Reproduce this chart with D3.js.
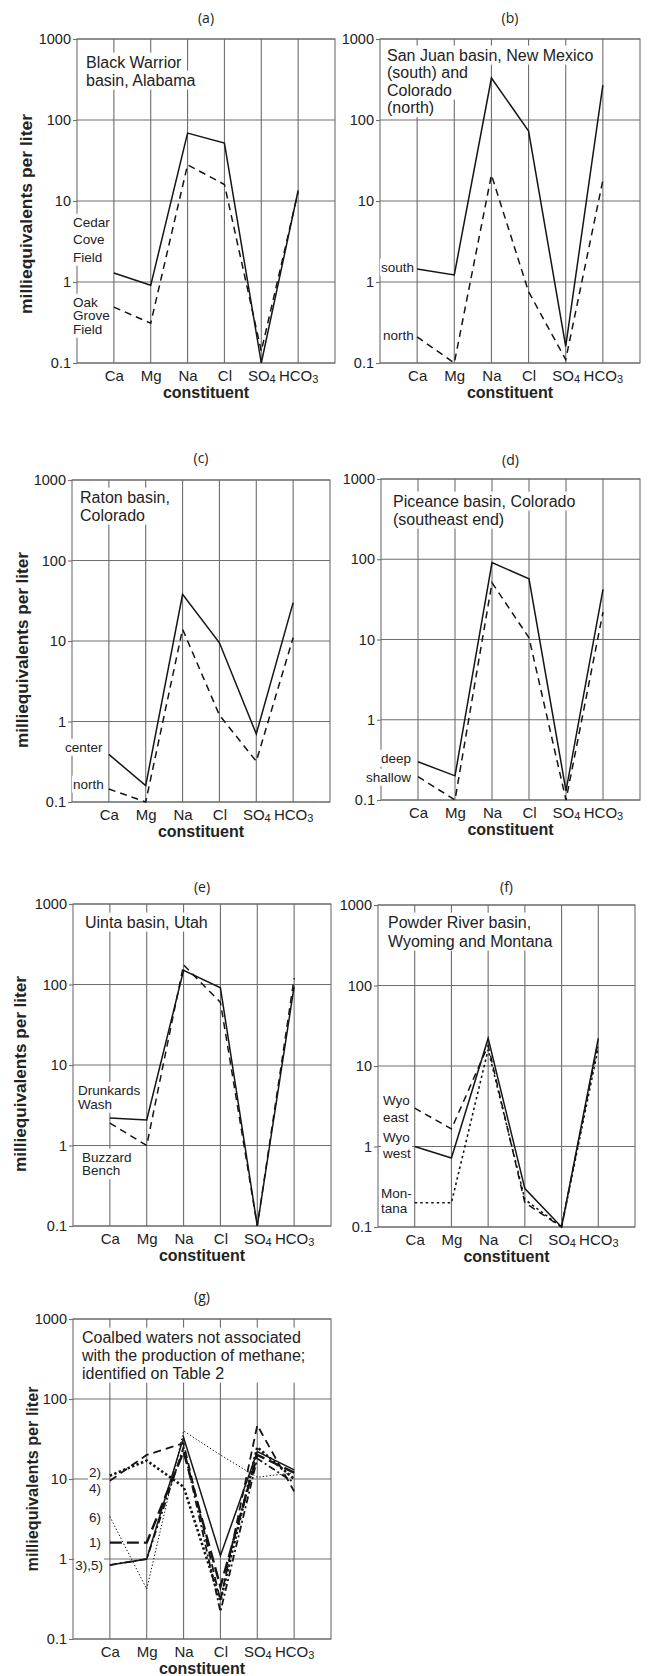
<!DOCTYPE html>
<html><head><meta charset="utf-8">
<script src="https://cdn.jsdelivr.net/npm/d3@7"></script>
<style>
body{margin:0;background:#fff}
svg{display:block}
text{font-family:"Liberation Sans",Arial,Helvetica,sans-serif;fill:#222}
</style>
</head><body>
<svg id="chart" width="648" height="1676"></svg>
<script>
// ---------- data ----------
const constituents = ["Ca","Mg","Na","Cl","SO4","HCO3"];
const yTickValues = [0.1, 1, 10, 100, 1000];
const yTickLabels = ["0.1","1","10","100","1000"];
const yAxisTitle = "milliequivalents per liter";
const xAxisTitle = "constituent";

// (a) Black Warrior basin
const aTitle = ["Black Warrior","basin, Alabama"];
const aNames = [["Cedar","Cove","Field"],["Oak","Grove","Field"]];
const aCedarCove = [1.29, 0.91, 69, 52, 0.1, 13.5];
const aOakGrove  = [0.49, 0.31, 28, 16, 0.14, 13];

// (b) San Juan basin
const bTitle = ["San Juan basin, New Mexico","(south) and","Colorado","(north)"];
const bNames = [["south"],["north"]];
const bSouth = [1.45, 1.22, 330, 73, 0.16, 270];
const bNorth = [0.21, 0.1, 21, 0.76, 0.11, 18];

// (c) Raton basin
const cTitle = ["Raton basin,","Colorado"];
const cNames = [["center"],["north"]];
const cCenter = [0.39, 0.16, 38, 9.5, 0.7, 30];
const cNorth  = [0.145, 0.1, 14, 1.2, 0.32, 11];

// (d) Piceance basin
const dTitle = ["Piceance basin, Colorado","(southeast end)"];
const dNames = [["deep"],["shallow"]];
const dDeep    = [0.30, 0.20, 91, 57, 0.13, 42];
const dShallow = [0.195, 0.1, 51, 10.5, 0.1, 22];

// (e) Uinta basin
const eTitle = ["Uinta basin, Utah"];
const eNames = [["Drunkards","Wash"],["Buzzard","Bench"]];
const eDrunkardsWash = [2.2, 2.08, 150, 91, 0.1, 95];
const eBuzzardBench  = [1.9, 1.0, 175, 60, 0.1, 120];

// (f) Powder River basin
const fTitle = ["Powder River basin,","Wyoming and Montana"];
const fNames = [["Wyo","east"],["Wyo","west"],["Mon-","tana"]];
const fWyoEast = [3.0, 1.65, 18, 0.2, 0.1, 20];
const fWyoWest = [1.0, 0.72, 22, 0.30, 0.1, 22];
const fMontana = [0.2, 0.2, 16, 0.22, 0.1, 17];

// (g) Coalbed waters not associated with methane
const gTitle = ["Coalbed waters not associated","with the production of methane;","identified on Table 2"];
const gNames = [["2)"],["4)"],["6)"],["1)"],["3),5)"]];
const gSample1 = [1.6, 1.6, 22, 0.45, 20, 12];
const gSample2 = [9.5, 20, 28, 0.3, 47, 7];
const gSample3 = [0.84, 1.0, 33, 1.1, 22, 13];
const gSample4 = [11, 17, 8, 0.3, 25, 10];
const gSample5 = [0.84, 1.0, 25, 0.22, 18, 9];
const gSample6 = [3.4, 0.42, 40, 20, 10.5, 12];

// ---------- styles ----------
const styles = {
  solid:  {w:1.5, dash:null},
  dash:   {w:1.5, dash:"7,5"},
  dot:    {w:1.6, dash:"2.5,3"},
  g1:     {w:2.4, dash:"12,5"},
  g2:     {w:1.8, dash:"8,5"},
  g3:     {w:1.5, dash:null},
  g4:     {w:2.6, dash:"2.4,2.4"},
  g5:     {w:1.8, dash:"7,3,2,3"},
  g6:     {w:1.0, dash:"1.4,2"}
};

// ---------- layout ----------
const panels = [
  {letter:"(a)", L:77, R:335, T:39, B:363, letterY:18, title:aTitle, tx:86, ty:62, tg:18, ylab:[26,214,200],
   series:[[aCedarCove,"solid"],[aOakGrove,"dash"]],
   notes:[[aNames[0],73,222,17.5,"start"],[aNames[1],73,302,13.5,"start"]]},
  {letter:"(b)", L:380, R:640, T:39, B:363, letterY:18, title:bTitle, tx:387, ty:55, tg:17.5, ylab:null,
   series:[[bSouth,"solid"],[bNorth,"dash"]],
   notes:[[bNames[0],381,267,14,"start"],[bNames[1],383,335,14,"start"]]},
  {letter:"(c)", L:72, R:330, T:480, B:802, letterY:458, title:cTitle, tx:80, ty:497, tg:18, ylab:[22,650,196],
   series:[[cCenter,"solid"],[cNorth,"dash"]],
   notes:[[cNames[0],65,747,14,"start"],[cNames[1],73,784,14,"start"]]},
  {letter:"(d)", L:381, R:640, T:479, B:800, letterY:460, title:dTitle, tx:393, ty:501, tg:18, ylab:null,
   series:[[dDeep,"solid"],[dShallow,"dash"]],
   notes:[[dNames[0],381,758,14,"start"],[dNames[1],366,777,14,"start"]]},
  {letter:"(e)", L:73, R:331, T:904, B:1226, letterY:887, title:eTitle, tx:85, ty:922, tg:18, ylab:[20,1074,196],
   series:[[eDrunkardsWash,"solid"],[eBuzzardBench,"dash"]],
   notes:[[eNames[0],78,1090,14,"start"],[eNames[1],82,1157,13.5,"start"]]},
  {letter:"(f)", L:378, R:635, T:905, B:1227, letterY:887, title:fTitle, tx:388, ty:922, tg:19, ylab:null,
   series:[[fWyoEast,"dash"],[fWyoWest,"solid"],[fMontana,"dot"]],
   notes:[[fNames[0],383,1100,17,"start"],[fNames[1],383,1137,16,"start"],[fNames[2],381,1193,15,"start"]]},
  {letter:"(g)", L:73, R:331, T:1319, B:1639, letterY:1297, title:gTitle, tx:82, ty:1337, tg:18, ylab:[32,1479,185], block:true,
   series:[[gSample6,"g6"],[gSample4,"g4"],[gSample2,"g2"],[gSample5,"g5"],[gSample1,"g1"],[gSample3,"g3"]],
   notes:[[gNames[0],101,1472,0,"end"],[gNames[1],101,1488,0,"end"],[gNames[2],101,1517,0,"end"],
          [gNames[3],101,1542,0,"end"],[gNames[4],103,1565,0,"end"]]}
];

const svg = d3.select("#chart");
const gridColor = "#6e6e6e";

function boxedText(g, lines, x, y0, gap, size, anchor, block, pad) {
  const gg = g.append("g");
  const texts = lines.map((t,i)=> gg.append("text")
      .attr("x", x).attr("y", y0 + i*gap).attr("dy","0.35em")
      .attr("text-anchor", anchor).attr("font-size", size).text(t));
  const boxes = texts.map(t => t.node().getBBox());
  const px = pad == null ? 3 : pad;
  if (block) {
    const x0 = d3.min(boxes, b=>b.x), x1 = d3.max(boxes, b=>b.x+b.width);
    const yA = d3.min(boxes, b=>b.y), yB = d3.max(boxes, b=>b.y+b.height);
    gg.insert("rect","text").attr("x",x0-px).attr("y",yA-1).attr("width",x1-x0+2*px)
      .attr("height",yB-yA+2).attr("fill","#fff");
  } else {
    boxes.forEach(b => gg.insert("rect","text").attr("x",b.x-px).attr("y",b.y-1)
      .attr("width",b.width+2*px).attr("height",b.height+2).attr("fill","#fff"));
  }
}

function subLabel(sel, name) {
  const m = name.match(/^(.*?)(\d+)$/);
  sel.text(null);
  if (m) {
    sel.append("tspan").text(m[1]);
    sel.append("tspan").attr("font-size", 11).attr("dy", 2).text(m[2]);
  } else sel.text(name);
}

panels.forEach(p => {
  const g = svg.append("g");
  const x = d3.scalePoint().domain(constituents).range([p.L, p.R]).padding(1);
  const y = d3.scaleLog().domain([0.1, 1000]).range([p.B, p.T]);

  // grid
  g.append("g").selectAll("line").data(yTickValues).join("line")
    .attr("x1", p.L).attr("x2", p.R).attr("y1", d=>y(d)).attr("y2", d=>y(d))
    .attr("stroke", gridColor).attr("stroke-width", 1.1);
  g.append("g").selectAll("line").data(constituents).join("line")
    .attr("x1", d=>x(d)).attr("x2", d=>x(d)).attr("y1", p.T).attr("y2", p.B)
    .attr("stroke", gridColor).attr("stroke-width", 1.1);
  g.append("rect").attr("x", p.L).attr("y", p.T).attr("width", p.R-p.L).attr("height", p.B-p.T)
    .attr("fill","none").attr("stroke", gridColor).attr("stroke-width", 1.1);

  // y axis
  const ya = g.append("g").attr("transform", `translate(${p.L},0)`)
    .call(d3.axisLeft(y).tickValues(yTickValues).tickFormat((d,i)=>yTickLabels[i]).tickSize(4).tickSizeOuter(0).tickPadding(2));
  ya.select(".domain").remove();
  ya.selectAll(".tick line").attr("stroke", gridColor).attr("stroke-width",1.1);
  ya.selectAll(".tick text").attr("font-size", 14.5).attr("fill","#222")
    .attr("font-family",'"Liberation Sans",Arial,sans-serif');

  // x axis labels
  const xa = g.append("g").attr("transform", `translate(0,${p.B})`)
    .call(d3.axisBottom(x).tickSize(0).tickPadding(7));
  xa.select(".domain").remove();
  xa.selectAll(".tick text").attr("font-size", 15).attr("fill","#222")
    .attr("font-family",'"Liberation Sans",Arial,sans-serif')
    .each(function(d){ subLabel(d3.select(this), d); });
  g.append("text").attr("x", (p.L+p.R)/2).attr("y", p.B+35).attr("text-anchor","middle")
    .attr("font-size", 16).attr("font-weight","bold").text(xAxisTitle);

  // y axis title
  if (p.ylab) {
    const [lx, cy, len] = p.ylab;
    g.append("text").attr("transform", `translate(${lx},${cy}) rotate(-90)`)
      .attr("text-anchor","middle").attr("dy","0.35em")
      .attr("font-size", 16).attr("font-weight","bold")
      .attr("textLength", len).attr("lengthAdjust","spacingAndGlyphs").text(yAxisTitle);
  }

  // panel letter
  g.append("text").attr("x", (p.L+p.R)/2).attr("y", p.letterY).attr("dy","0.35em")
    .attr("text-anchor","middle").attr("font-size", 14)
    .style("font-family",'"Open Sans","DejaVu Sans",sans-serif').attr("fill","#333").text(p.letter);

  // series
  const line = d3.line().x((d,i)=>x(constituents[i])).y(d=>y(d));
  p.series.forEach(([vals, st]) => {
    const s = styles[st];
    g.append("path").datum(vals).attr("d", line).attr("fill","none")
      .attr("stroke","#151515").attr("stroke-width", s.w)
      .attr("stroke-dasharray", s.dash).attr("stroke-linejoin","miter");
  });

  // title with white box
  boxedText(g, p.title, p.tx, p.ty, p.tg, 16, "start", !!p.block, 3);

  // series notes
  p.notes.forEach(([lines, nx, ny, gap, anchor]) => {
    boxedText(g, lines, nx, ny, gap, 13.5, anchor, true, 1);
  });
});
</script>
</body></html>
